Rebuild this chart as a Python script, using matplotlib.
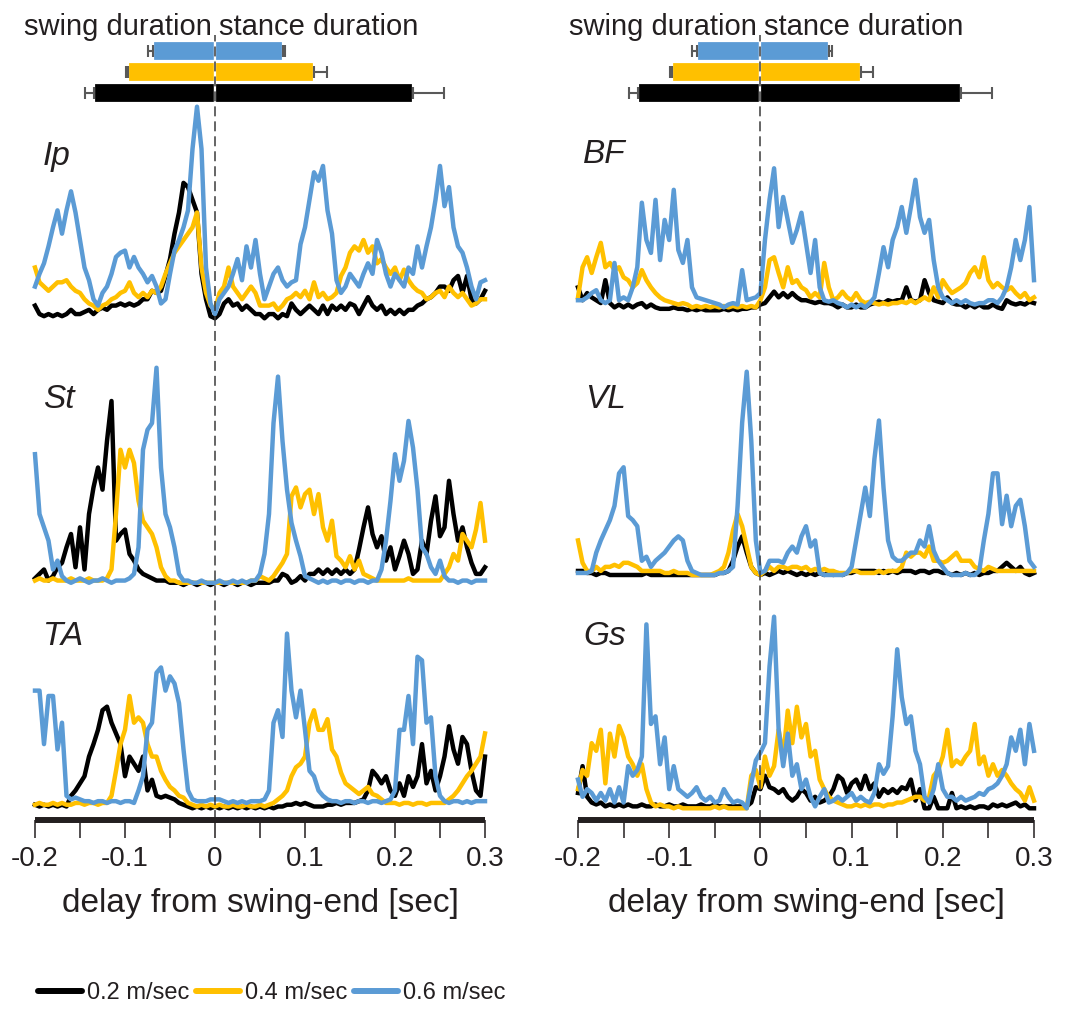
import numpy as np
import matplotlib
matplotlib.use("Agg")
import matplotlib.pyplot as plt
from matplotlib.transforms import blended_transform_factory

W, H = 1065, 1009
INK = '#231f20'
plt.rcParams['font.family'] = ['Liberation Sans', 'DejaVu Sans']

speeds = ['0.2 m/sec', '0.4 m/sec', '0.6 m/sec']
colors = ['#000000', '#ffc000', '#5b9bd5']

# step-phase durations [sec] for 0.2 / 0.4 / 0.6 m/sec
swing_dur = [0.134, 0.097, 0.069]
swing_err = [0.010, 0.002, 0.006]
stance_dur = [0.220, 0.110, 0.075]
stance_err = [0.034, 0.014, 0.003]

tick_vals = [-0.2, -0.1, 0.0, 0.1, 0.2, 0.3]
tick_labels = ['-0.2', '-0.1', '0', '0.1', '0.2', '0.3']

# time base of the averaged EMG envelopes, 5 ms bins
t = np.linspace(-0.2, 0.3, 101)

# averaged rectified EMG (a.u., peak of each muscle = 100)
ip_02 = [6, 2, 1, 2, 1, 2, 1, 2, 4, 2,
         2, 3, 4, 2, 4, 5, 4, 6, 6, 7,
         6, 7, 6, 7, 9, 9, 13, 12, 13, 20,
         28, 40, 50, 64, 62, 56, 50, 21, 9, 1,
         0, 2, 7, 9, 6, 7, 4, 6, 4, 2,
         2, 0, 2, 2, 0, 2, 1, 7, 4, 2,
         4, 6, 4, 2, 6, 2, 6, 4, 6, 4,
         7, 6, 2, 6, 10, 6, 4, 6, 2, 4,
         2, 4, 2, 4, 4, 6, 7, 9, 10, 12,
         15, 15, 13, 18, 20, 12, 20, 9, 7, 9,
         13]
ip_04 = [24, 17, 15, 13, 15, 17, 17, 18, 15, 13,
         12, 9, 7, 6, 4, 6, 7, 9, 10, 12,
         13, 17, 12, 10, 12, 10, 13, 12, 15, 21,
         26, 31, 34, 37, 40, 43, 50, 24, 12, 6,
         4, 12, 15, 24, 15, 12, 9, 12, 15, 12,
         6, 6, 6, 7, 4, 6, 9, 10, 12, 10,
         13, 9, 17, 10, 12, 9, 10, 12, 20, 24,
         31, 34, 32, 37, 31, 34, 26, 28, 24, 21,
         24, 18, 23, 18, 15, 13, 12, 9, 10, 12,
         13, 10, 15, 12, 10, 12, 9, 6, 7, 9,
         9]
ip_06 = [15, 21, 26, 34, 43, 51, 40, 51, 60, 50,
         37, 24, 18, 9, 6, 12, 15, 21, 29, 31,
         32, 24, 29, 24, 21, 17, 20, 15, 7, 9,
         21, 32, 37, 43, 51, 80, 100, 80, 24, 7,
         2, 9, 12, 15, 21, 28, 18, 34, 24, 37,
         21, 9, 15, 21, 24, 18, 15, 17, 18, 35,
         43, 56, 69, 65, 72, 51, 40, 18, 12, 15,
         21, 18, 15, 21, 26, 21, 37, 31, 21, 15,
         21, 18, 15, 24, 21, 34, 24, 34, 43, 56,
         72, 53, 62, 43, 34, 31, 24, 15, 9, 17,
         18]

st_02 = [3, 5, 7, 2, 4, 8, 10, 17, 23, 8,
         26, 7, 32, 44, 53, 43, 65, 83, 20, 23,
         25, 14, 11, 7, 5, 4, 3, 2, 2, 2,
         1, 1, 1, 0, 1, 1, 0, 1, 1, 0,
         1, 1, 0, 1, 1, 0, 1, 1, 0, 1,
         1, 1, 1, 2, 2, 5, 4, 1, 2, 4,
         2, 5, 5, 7, 5, 7, 5, 7, 5, 7,
         5, 7, 16, 26, 35, 23, 17, 22, 11, 17,
         7, 13, 20, 14, 5, 7, 20, 14, 29, 40,
         22, 26, 47, 32, 20, 26, 17, 10, 5, 5,
         8]
st_04 = [2, 3, 2, 2, 3, 2, 2, 2, 3, 2,
         2, 2, 3, 2, 2, 2, 3, 7, 32, 61,
         53, 61, 55, 38, 29, 26, 23, 17, 8, 4,
         2, 2, 1, 1, 1, 1, 1, 1, 1, 1,
         1, 1, 1, 1, 1, 1, 1, 1, 2, 2,
         4, 3, 2, 4, 7, 10, 14, 40, 44, 35,
         41, 43, 32, 41, 26, 20, 29, 13, 11, 8,
         13, 7, 11, 5, 4, 3, 2, 2, 2, 2,
         2, 2, 2, 3, 2, 2, 2, 2, 2, 2,
         2, 5, 8, 14, 11, 23, 20, 17, 25, 37,
         20]
st_06 = [59, 32, 26, 20, 7, 11, 4, 2, 1, 2,
         3, 2, 1, 2, 2, 3, 2, 1, 2, 2,
         2, 3, 5, 17, 61, 70, 73, 98, 53, 32,
         26, 17, 5, 2, 2, 1, 1, 2, 1, 1,
         1, 2, 1, 1, 2, 1, 2, 1, 2, 2,
         5, 14, 32, 73, 94, 65, 43, 28, 20, 13,
         4, 3, 2, 1, 2, 1, 2, 2, 1, 2,
         2, 1, 2, 2, 1, 2, 2, 7, 20, 38,
         59, 47, 56, 74, 62, 43, 17, 14, 8, 5,
         11, 4, 2, 2, 1, 2, 2, 1, 2, 2,
         2]

ta_02 = [2, 1, 2, 1, 2, 1, 2, 1, 7, 10,
         14, 18, 29, 36, 44, 55, 57, 48, 42, 36,
         18, 29, 25, 21, 29, 10, 16, 7, 6, 7,
         6, 5, 3, 2, 1, 0, 1, 0, 1, 0,
         1, 0, 1, 0, 1, 0, 1, 0, 1, 0,
         1, 0, 1, 0, 1, 1, 2, 2, 3, 2,
         3, 2, 1, 1, 1, 2, 2, 3, 2, 3,
         3, 3, 4, 5, 10, 21, 18, 14, 18, 10,
         7, 14, 7, 18, 12, 18, 36, 14, 21, 10,
         18, 29, 46, 33, 25, 40, 36, 21, 10, 7,
         29]
ta_04 = [2, 3, 2, 2, 3, 2, 3, 2, 2, 3,
         3, 2, 3, 3, 2, 3, 3, 7, 21, 36,
         44, 63, 48, 51, 48, 36, 29, 29, 21, 16,
         12, 10, 7, 6, 3, 2, 1, 2, 1, 2,
         1, 2, 1, 1, 2, 1, 1, 2, 1, 1,
         2, 1, 2, 3, 5, 7, 10, 18, 23, 25,
         29, 48, 55, 44, 44, 50, 33, 29, 20, 14,
         12, 10, 8, 10, 12, 8, 7, 5, 3, 3,
         3, 2, 3, 3, 2, 3, 3, 2, 3, 3,
         3, 3, 5, 7, 10, 14, 18, 21, 25, 29,
         42]
ta_06 = [66, 66, 36, 63, 63, 33, 48, 7, 5, 6,
         5, 4, 4, 3, 4, 4, 3, 4, 4, 3,
         4, 4, 3, 10, 18, 44, 48, 76, 79, 66,
         74, 70, 59, 33, 10, 5, 4, 4, 4, 5,
         5, 5, 4, 3, 4, 3, 4, 3, 4, 4,
         4, 5, 10, 48, 55, 40, 98, 66, 51, 66,
         44, 21, 18, 10, 7, 5, 4, 4, 3, 4,
         4, 3, 4, 4, 3, 4, 4, 3, 4, 5,
         10, 44, 44, 63, 36, 85, 83, 48, 51, 18,
         7, 4, 3, 4, 4, 3, 4, 3, 4, 4,
         4]

bf_02 = [17, 8, 13, 10, 8, 6, 22, 6, 3, 5,
         3, 5, 3, 5, 6, 3, 5, 3, 2, 2,
         2, 3, 2, 2, 1, 2, 1, 2, 1, 1,
         1, 1, 2, 1, 2, 1, 2, 2, 3, 3,
         5, 6, 10, 14, 10, 13, 10, 13, 10, 8,
         8, 7, 6, 7, 6, 6, 5, 3, 5, 3,
         3, 5, 3, 3, 5, 6, 7, 6, 8, 7,
         8, 8, 17, 8, 7, 8, 22, 13, 8, 7,
         6, 10, 6, 5, 5, 3, 5, 3, 5, 3,
         3, 5, 3, 2, 8, 6, 5, 6, 5, 7,
         6]
bf_04 = [10, 31, 38, 27, 38, 48, 31, 34, 29, 31,
         24, 22, 17, 20, 29, 22, 17, 13, 10, 8,
         7, 6, 5, 6, 5, 3, 4, 3, 4, 3,
         4, 3, 4, 3, 4, 3, 4, 3, 4, 3,
         8, 17, 36, 38, 27, 17, 31, 20, 22, 17,
         15, 10, 13, 10, 34, 17, 8, 10, 14, 10,
         8, 13, 8, 6, 7, 6, 5, 6, 5, 6,
         6, 7, 6, 8, 6, 8, 10, 8, 17, 10,
         22, 17, 13, 15, 17, 20, 27, 31, 24, 38,
         22, 17, 20, 17, 15, 17, 13, 10, 13, 8,
         10]
bf_06 = [8, 8, 10, 13, 15, 8, 6, 8, 34, 8,
         10, 8, 17, 31, 76, 50, 41, 78, 36, 64,
         50, 85, 43, 34, 50, 17, 10, 9, 8, 7,
         6, 5, 3, 5, 6, 5, 29, 8, 9, 10,
         13, 50, 78, 100, 59, 80, 64, 48, 57, 69,
         48, 27, 50, 17, 8, 7, 8, 6, 5, 3,
         5, 3, 5, 3, 6, 10, 27, 45, 31, 50,
         59, 73, 55, 73, 92, 66, 55, 64, 36, 17,
         10, 8, 6, 8, 6, 8, 6, 5, 6, 6,
         8, 8, 6, 10, 17, 31, 50, 36, 50, 73,
         22]

vl_02 = [2, 2, 1, 1, 0, 1, 1, 0, 0, 0,
         0, 0, 0, 0, 0, 1, 0, 0, 0, 0,
         0, 0, 0, 0, 0, 0, 0, 0, 0, 0,
         0, 1, 1, 2, 7, 14, 19, 11, 4, 1,
         0, 1, 0, 1, 2, 1, 2, 1, 0, 1,
         0, 1, 0, 1, 0, 1, 0, 1, 0, 1,
         1, 2, 2, 2, 2, 2, 1, 2, 1, 2,
         1, 2, 2, 2, 1, 2, 2, 1, 2, 2,
         1, 1, 0, 1, 0, 1, 0, 1, 0, 1,
         1, 2, 2, 4, 6, 4, 2, 4, 1, 0,
         1]
vl_04 = [17, 6, 2, 2, 4, 2, 4, 4, 5, 4,
         6, 6, 5, 4, 2, 2, 2, 2, 2, 1,
         1, 2, 1, 1, 1, 0, 0, 0, 0, 0,
         1, 2, 4, 11, 22, 30, 24, 14, 4, 1,
         0, 2, 4, 2, 4, 4, 3, 4, 4, 3,
         4, 2, 3, 2, 3, 2, 2, 1, 1, 1,
         2, 2, 1, 1, 1, 1, 2, 1, 2, 2,
         2, 4, 11, 9, 11, 11, 9, 14, 7, 7,
         6, 7, 9, 11, 7, 7, 7, 4, 3, 2,
         4, 3, 2, 2, 2, 2, 2, 2, 2, 2,
         2]
vl_06 = [1, 1, 1, 2, 11, 17, 22, 27, 34, 50,
         53, 29, 27, 24, 7, 9, 4, 7, 9, 11,
         14, 17, 19, 17, 7, 2, 1, 0, 0, 0,
         0, 1, 1, 2, 4, 34, 75, 100, 66, 17,
         1, 2, 7, 7, 7, 6, 11, 14, 11, 19,
         24, 14, 17, 1, 0, 0, 0, 0, 0, 1,
         4, 17, 30, 43, 29, 57, 76, 43, 17, 9,
         7, 7, 9, 11, 11, 17, 14, 24, 12, 7,
         4, 1, 0, 0, 0, 1, 0, 0, 2, 17,
         30, 50, 50, 25, 39, 24, 34, 37, 24, 7,
         4]

gs_02 = [8, 22, 6, 3, 2, 3, 1, 2, 1, 2,
         1, 2, 1, 1, 2, 1, 1, 2, 1, 1,
         2, 1, 1, 2, 1, 1, 1, 2, 1, 1,
         2, 1, 1, 1, 1, 1, 1, 1, 3, 11,
         10, 17, 11, 10, 8, 10, 6, 4, 6, 10,
         8, 4, 6, 3, 4, 6, 10, 17, 15, 8,
         13, 15, 10, 17, 10, 13, 6, 10, 8, 10,
         8, 11, 10, 15, 4, 10, 0, 0, 6, 0,
         0, 0, 8, 0, 1, 0, 1, 0, 1, 1,
         0, 2, 1, 2, 1, 2, 3, 1, 2, 0,
         0]
gs_04 = [10, 20, 17, 34, 30, 41, 13, 39, 27, 43,
         37, 27, 23, 17, 23, 10, 3, 1, 2, 1,
         1, 0, 1, 0, 0, 0, 0, 0, 0, 0,
         1, 0, 1, 0, 0, 0, 0, 0, 17, 20,
         11, 27, 17, 22, 41, 27, 51, 34, 53, 37,
         44, 27, 30, 15, 10, 6, 4, 3, 2, 1,
         1, 2, 1, 2, 1, 2, 2, 1, 2, 2,
         3, 3, 4, 5, 6, 6, 4, 6, 17, 20,
         27, 41, 22, 25, 23, 27, 30, 44, 23, 27,
         17, 23, 17, 20, 17, 13, 10, 8, 4, 11,
         4]
gs_06 = [15, 6, 10, 8, 4, 8, 4, 10, 3, 11,
         3, 22, 17, 20, 27, 96, 44, 48, 23, 37,
         10, 22, 10, 8, 6, 8, 11, 6, 4, 6,
         3, 4, 10, 6, 3, 4, 3, 0, 13, 25,
         29, 34, 74, 100, 41, 22, 39, 17, 23, 10,
         15, 6, 1, 6, 10, 3, 4, 6, 4, 6,
         8, 4, 6, 4, 3, 8, 23, 18, 22, 48,
         83, 58, 44, 48, 30, 23, 6, 3, 10, 23,
         10, 6, 6, 4, 6, 4, 5, 6, 8, 7,
         10, 11, 13, 17, 23, 37, 30, 41, 23, 44,
         30]

muscles = [
    ['Ip', 'St', 'TA'],
    ['BF', 'VL', 'Gs'],
]
traces = {
    'Ip': [ip_02, ip_04, ip_06], 'St': [st_02, st_04, st_06],
    'TA': [ta_02, ta_04, ta_06], 'BF': [bf_02, bf_04, bf_06],
    'VL': [vl_02, vl_04, vl_06], 'Gs': [gs_02, gs_04, gs_06],
}

# layout in pixels: column spans, panel (top, bottom) rows, label anchors
col_x = [(35, 485), (578, 1034)]
rows = [
    [(106.7, 318.3), (363.3, 585.0), (630.0, 808.3)],
    [(168.3, 311.7), (371.7, 575.0), (616.7, 808.3)],
]
label_xy = [
    [(43, 165), (43, 408), (43, 645)],
    [(583, 163), (585, 408), (583, 645)],
]


def rect(x0, x1, y_top, y_bot):
    return [x0 / W, 1 - y_bot / H, (x1 - x0) / W, (y_bot - y_top) / H]


fig = plt.figure(figsize=(W / 100, H / 100), dpi=100)
handles = []

for c, (x0, x1) in enumerate(col_x):
    # swing / stance duration bars
    axb = fig.add_axes(rect(x0, x1, 40, 103.5))
    axb.set_xlim(-0.2, 0.3)
    axb.set_ylim(-0.5, 2.5)
    axb.axis('off')
    pos = np.arange(3)
    axb.barh(pos, -np.array(swing_dur), height=0.95, color=colors,
             edgecolor='white', linewidth=1.6)
    axb.barh(pos, stance_dur, height=0.95, color=colors,
             edgecolor='white', linewidth=1.6)
    axb.errorbar(-np.array(swing_dur), pos, xerr=[swing_err, [0] * 3],
                 fmt='none', ecolor='#595959', elinewidth=1.5, capsize=4,
                 capthick=1.5)
    axb.errorbar(stance_dur, pos, xerr=[[0] * 3, stance_err],
                 fmt='none', ecolor='#595959', elinewidth=1.5, capsize=4,
                 capthick=1.5)
    tr = blended_transform_factory(axb.transData, fig.transFigure)
    axb.text(-0.004, 1 - 35 / H, 'swing duration', transform=tr, ha='right',
             va='baseline', fontsize=21, color=INK)
    axb.text(0.004, 1 - 35 / H, 'stance duration', transform=tr, ha='left',
             va='baseline', fontsize=21, color=INK)

    # EMG panels
    for r, name in enumerate(muscles[c]):
        y_top, y_bot = rows[c][r]
        ax = fig.add_axes(rect(x0, x1, y_top, y_bot))
        ax.set_xlim(-0.2, 0.3)
        ax.set_ylim(0, 100)
        ax.axis('off')
        for vals, col, lab in zip(traces[name], colors, speeds):
            ln, = ax.plot(t, vals, color=col, lw=3.2, clip_on=False, label=lab)
            if c == 0 and r == 0:
                handles.append(ln)
        lx, ly = label_xy[c][r]
        fig.text(lx / W, 1 - ly / H, name, fontsize=24, style='italic',
                 va='baseline', color=INK)

    # shared time axis and swing-end marker
    fr = fig.add_axes(rect(x0, x1, 35, 820))
    fr.set_facecolor('none')
    fr.set_xlim(-0.2, 0.3)
    fr.set_ylim(0, 1)
    for s in ['top', 'left', 'right']:
        fr.spines[s].set_visible(False)
    fr.spines['bottom'].set_linewidth(4.3)
    fr.spines['bottom'].set_color(INK)
    fr.spines['bottom'].set_capstyle('butt')
    fr.set_yticks([])
    fr.set_xticks(tick_vals)
    fr.set_xticklabels(tick_labels)
    fr.set_xticks(np.arange(-0.15, 0.3, 0.1), minor=True)
    fr.tick_params(axis='x', which='both', direction='out', length=13,
                   width=1.1, color=INK, labelsize=20, labelcolor=INK, pad=6)
    fr.set_xlabel('delay from swing-end [sec]', fontsize=24, color=INK,
                  labelpad=11)
    fr.axvline(0, color='#3a3a3a', lw=1.1, dashes=(6.5, 3.3))

leg = fig.legend(handles, speeds, loc='center left',
                 bbox_to_anchor=(38 / W, 1 - 993 / H), ncol=3, frameon=False,
                 prop={'size': 17},
                 handlelength=1.86, handletextpad=0.2, columnspacing=0.3,
                 borderpad=0, borderaxespad=0)
for ln in leg.get_lines():
    ln.set_linewidth(4.3)
    ln.set_solid_capstyle('round')
for txt in leg.get_texts():
    txt.set_color(INK)

fig.savefig('out.png', dpi=100)
